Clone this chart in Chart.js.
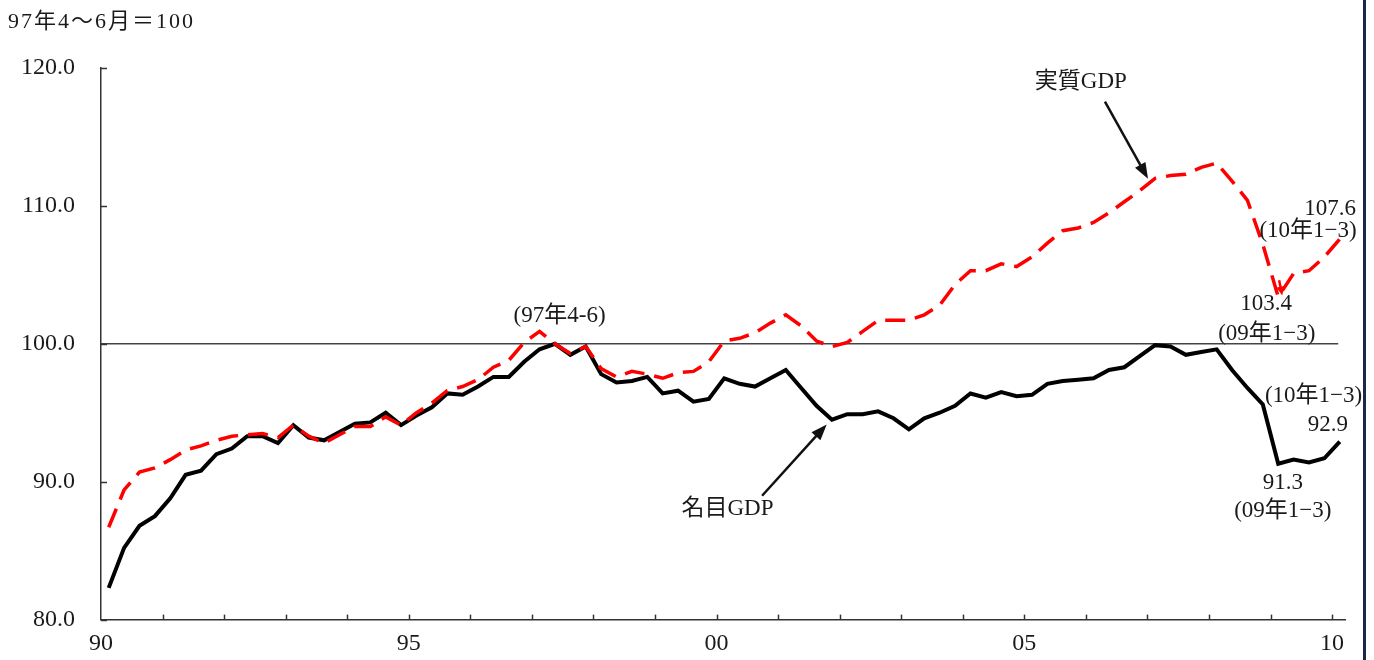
<!DOCTYPE html>
<html>
<head>
<meta charset="utf-8">
<script src="https://cdn.jsdelivr.net/npm/chart.js@4/dist/chart.umd.min.js"></script>
<style>
  html, body { margin: 0; padding: 0; background: #fff; }
  #wrap { position: relative; width: 1374px; height: 660px; }
  canvas { display: block; }
</style>
</head>
<body>
<div id="wrap"><canvas id="c" width="1374" height="660"></canvas></div>
<script>
// ---- data (quarterly, 1990Q1 .. 2010Q1), index 97年4-6月 = 100 ----
const startYear = 1990;
const unitNote = '97年4〜6月＝100';

const nominalGDP = [
  82.3, 85.2, 86.8, 87.5, 88.8, 90.5, 90.8, 92.0, 92.4, 93.3,
  93.3, 92.8, 94.1, 93.2, 93.0, 93.6, 94.2, 94.3, 95.0, 94.1,
  94.8, 95.4, 96.4, 96.3, 96.9, 97.6, 97.6, 98.7, 99.6, 100.0,
  99.2, 99.8, 97.8, 97.2, 97.3, 97.6, 96.4, 96.6, 95.8, 96.0,
  97.5, 97.1, 96.9, 97.5, 98.1, 96.8, 95.5, 94.5, 94.9, 94.9,
  95.1, 94.6, 93.8, 94.6, 95.0, 95.5, 96.4, 96.1, 96.5, 96.2,
  96.3, 97.1, 97.3, 97.4, 97.5, 98.1, 98.3, 99.1, 99.9, 99.8,
  99.2, 99.4, 99.6, 98.1, 96.8, 95.6, 91.3, 91.6, 91.4, 91.7,
  92.9
];

const realGDP = [
  86.7, 89.4, 90.7, 91.0, 91.6, 92.3, 92.6, 93.0, 93.3, 93.4,
  93.5, 93.2, 94.1, 93.3, 92.8, 93.4, 94.0, 94.0, 94.7, 94.1,
  95.0, 95.7, 96.6, 96.9, 97.4, 98.3, 98.8, 100.1, 100.9, 100.0,
  99.3, 99.8, 98.2, 97.6, 98.0, 97.8, 97.5, 97.9, 98.0, 98.7,
  100.2, 100.4, 100.8, 101.5, 102.1, 101.3, 100.2, 99.8, 100.1, 100.9,
  101.7, 101.7, 101.7, 102.1, 102.8, 104.3, 105.3, 105.3, 105.8, 105.6,
  106.3, 107.3, 108.2, 108.4, 108.8, 109.5, 110.3, 111.1, 112.0, 112.2,
  112.3, 112.8, 113.1, 111.8, 110.4, 107.2, 103.4, 105.1, 105.3, 106.3,
  107.6
];

const baseLevel = 100;
const baseLineYears = [1990, 2010.1];

const xTickYears = [1990, 1995, 2000, 2005, 2010];
const xTickLabels = ['90', '95', '00', '05', '10'];
const yTicks = [80, 90, 100, 110, 120];

// annotation texts, anchored in data coordinates (year, index value)
const noteTexts = ['(97年4-6)', '実質GDP', '名目GDP', '107.6', '(10年1−3)', '103.4', '(09年1−3)', '(10年1−3)', '92.9', '91.3', '(09年1−3)'];
const noteYears = [1997.45, 2005.17, 1999.43, 2010.39, 2010.40, 2008.93, 2008.94, 2010.49, 2010.26, 2009.20, 2009.20];
const noteValues = [102.0, 119.0, 88.0, 109.8, 108.2, 102.9, 100.75, 96.2, 94.15, 89.9, 87.9];
const noteAligns = ['center', 'left', 'left', 'right', 'right', 'center', 'center', 'right', 'right', 'center', 'center'];

// arrows: [fromYear, fromValue, toYear, toValue]
const arrowFrom = [[2006.31, 117.56], [2000.74, 88.98], [2009.14, 104.6]];
const arrowTo   = [[2007.01, 111.96], [2001.79, 94.15], [2009.19, 103.5]];
const arrowColors = ['#111', '#111', '#ff0000'];

// ---- build series ----
const toPoints = arr => arr.map((v, i) => ({ x: startYear + (i + 0.5) / 4, y: v }));

const FONT = "'Liberation Serif', 'Noto Sans CJK JP', serif";

const decor = {
  id: 'decor',
  afterDraw(chart) {
    const { ctx, chartArea: a, scales: { x, y } } = chart;
    ctx.save();
    // inward y ticks
    ctx.strokeStyle = '#333';
    ctx.lineWidth = 1.5;
    yTicks.forEach(v => {
      const py = Math.round(y.getPixelForValue(v)) + 0.5;
      ctx.beginPath(); ctx.moveTo(a.left, py); ctx.lineTo(a.left + 6, py); ctx.stroke();
    });
    // inward x ticks every year
    for (let yr = 1991; yr <= 2010; yr++) {
      const px = Math.round(x.getPixelForValue(yr)) + 0.5;
      ctx.beginPath(); ctx.moveTo(px, a.bottom); ctx.lineTo(px, a.bottom - 5); ctx.stroke();
    }
    // unit note
    ctx.fillStyle = '#1a1a1a';
    ctx.font = '22px ' + FONT;
    ctx.textBaseline = 'middle';
    ctx.textAlign = 'left';
    try { ctx.letterSpacing = '2px'; } catch (e) {}
    ctx.fillText(unitNote, 8, 22);
    try { ctx.letterSpacing = '0px'; } catch (e) {}
    // annotations
    ctx.font = '23px ' + FONT;
    noteTexts.forEach((t, i) => {
      ctx.textAlign = noteAligns[i];
      ctx.fillText(t, x.getPixelForValue(noteYears[i]), y.getPixelForValue(noteValues[i]));
    });
    // arrows
    arrowFrom.forEach((f, i) => {
      const x1 = x.getPixelForValue(f[0]), y1 = y.getPixelForValue(f[1]);
      const x2 = x.getPixelForValue(arrowTo[i][0]), y2 = y.getPixelForValue(arrowTo[i][1]);
      const ang = Math.atan2(y2 - y1, x2 - x1);
      const hl = i === 2 ? 9 : 16, hw = i === 2 ? 4 : 6;
      ctx.strokeStyle = arrowColors[i];
      ctx.fillStyle = arrowColors[i];
      ctx.lineWidth = 2.5;
      ctx.beginPath();
      ctx.moveTo(x1, y1);
      ctx.lineTo(x2 - Math.cos(ang) * hl * 0.8, y2 - Math.sin(ang) * hl * 0.8);
      ctx.stroke();
      ctx.beginPath();
      ctx.moveTo(x2, y2);
      ctx.lineTo(x2 - Math.cos(ang) * hl - Math.sin(ang) * hw, y2 - Math.sin(ang) * hl + Math.cos(ang) * hw);
      ctx.lineTo(x2 - Math.cos(ang) * hl + Math.sin(ang) * hw, y2 - Math.sin(ang) * hl - Math.cos(ang) * hw);
      ctx.closePath();
      ctx.fill();
    });
    // right frame line
    ctx.strokeStyle = '#1c2946';
    ctx.lineWidth = 3;
    ctx.beginPath(); ctx.moveTo(1364.5, 0); ctx.lineTo(1364.5, 660); ctx.stroke();
    ctx.restore();
  }
};

new Chart(document.getElementById('c'), {
  type: 'line',
  data: {
    datasets: [
      {
        label: '実質GDP',
        data: toPoints(realGDP),
        borderColor: '#ff0000',
        borderWidth: 3.5,
        borderDash: [20, 10],
        pointRadius: 0,
        tension: 0,
        fill: false
      },
      {
        label: '名目GDP',
        data: toPoints(nominalGDP),
        borderColor: '#000000',
        borderWidth: 4,
        pointRadius: 0,
        tension: 0,
        fill: false
      },
      {
        label: 'base',
        data: baseLineYears.map(v => ({ x: v, y: baseLevel })),
        borderColor: '#444',
        borderWidth: 1.5,
        pointRadius: 0,
        fill: false
      }
    ]
  },
  options: {
    responsive: false,
    animation: false,
    devicePixelRatio: 1,
    layout: { padding: { top: 68, right: 29, left: 0, bottom: 0 } },
    plugins: { legend: { display: false }, tooltip: { enabled: false }, title: { display: false } },
    scales: {
      x: {
        type: 'linear',
        min: 1990,
        max: 2010.21,
        grid: { display: false, drawTicks: false },
        border: { display: true, color: '#333', width: 1.5 },
        afterBuildTicks: s => { s.ticks = xTickYears.map(v => ({ value: v })); },
        afterFit: s => { s.height = 35; },
        ticks: {
          autoSkip: false,
          maxRotation: 0,
          padding: 10,
          color: '#1a1a1a',
          font: { family: FONT, size: 24 },
          callback: v => { const k = xTickYears.indexOf(v); return k >= 0 ? xTickLabels[k] : ''; }
        }
      },
      y: {
        min: 80,
        max: 120,
        grid: { display: false, drawTicks: false },
        border: { display: true, color: '#333', width: 1.5 },
        afterBuildTicks: s => { s.ticks = yTicks.map(v => ({ value: v })); },
        afterFit: s => { s.width = 101; },
        ticks: {
          padding: 26,
          color: '#1a1a1a',
          font: { family: FONT, size: 24 },
          callback: v => v.toFixed(1)
        }
      }
    }
  },
  plugins: [decor]
});
</script>
</body>
</html>
